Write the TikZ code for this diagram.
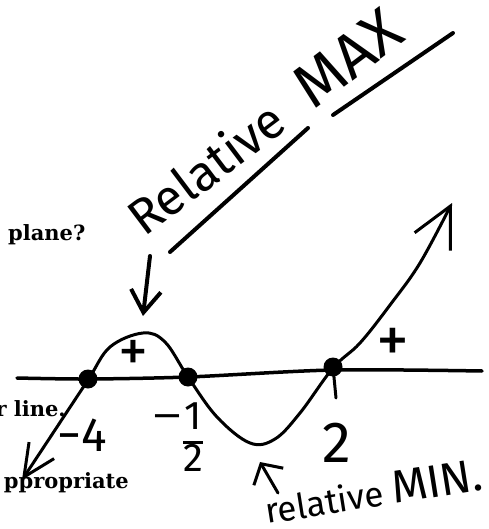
\documentclass[tikz,border=0pt]{standalone}
\usepackage{fontspec}
\newfontfamily\handfont{Fira Sans}
\newfontfamily\printfont{DejaVu Serif}
\usetikzlibrary{arrows.meta}
\tikzset{
  ink/.style   ={draw=black,line width=3pt,line cap=round,line join=round},
  zero/.style  ={circle,fill=black,inner sep=0pt,minimum size=19pt},
  hand/.style  ={font=\handfont\fontsize{48}{48}\selectfont,inner sep=0pt},
  qtext/.style ={font=\printfont\bfseries\fontsize{21}{21}\selectfont,inner sep=0pt},
}

\begin{document}
\begin{tikzpicture}[x=1pt,y=-1pt]
\useasboundingbox (0,0) rectangle (488,529);
\clip (0,0) rectangle (488,529);

% printed question text, cut at the left edge
\node[qtext,anchor=base west] (q1) at (8,240)   {plane?};
\node[qtext,anchor=base east] (q2) at (66,416)  {r line.};
\node[qtext,anchor=base east] (q3) at (129,488) {ppropriate};

% number line
\draw[ink,line width=3.5pt] plot[smooth] coordinates
  {(17,378) (88,379) (188,377) (333,370) (482,371)};

% zeros
\node[zero] (zA) at (88,379)  {};
\node[zero] (zB) at (188,377) {};
\node[zero] (zC) at (333,367) {};
\coordinate (tC) at (336,398);
\draw[ink] (zC.center) -- (tC);

% sign curve
\draw[ink,{Straight Barb[length=32pt,width=30pt]}-{Straight Barb[length=40pt,width=40pt]}]
  plot[smooth,tension=0.6] coordinates
  {(22,480) (55,430) (88,380) (110,347) (143,333) (165,342) (188,377)
   (217,417) (250,443) (275,439) (300,413) (333,368) (360,343) (390,305)
   (420,263) (452,203)};

% labels on the line
\node[hand] (lA) at (82,435) {−4};
\node[hand,font=\handfont\fontsize{40}{40}\selectfont] (lB) at (177,443)
  {\raisebox{20pt}{\scalebox{1.6}[1]{−}}\setlength\arrayrulewidth{3pt}\renewcommand\arraystretch{0.95}%
   \begin{tabular}{@{}c@{}}1\\\hline 2\end{tabular}};
\node[hand,font=\handfont\fontsize{58}{58}\selectfont] (lC) at (337,443) {2};
\node[hand,font=\handfont\fontsize{60}{60}\selectfont] (pA) at (133,356) {+};
\node[hand,font=\handfont\fontsize{66}{66}\selectfont] (pB) at (393,345) {+};

% relative max
\node[hand,anchor=base west,rotate=37] (lMax) at (144,238)
  {\fontsize{50}{50}\selectfont Relative\hspace{30pt}\fontsize{62}{62}\selectfont MAX};
\draw[ink,line width=4pt] (170,252) -- (308,128);
\draw[ink,line width=4pt] (333,115) -- (453,33);
\coordinate (xT) at (150,256);
\coordinate (xH) at (143,316);
\draw[ink,line width=4pt,-{Straight Barb[length=22pt,width=30pt]}] (xT) -- (xH);

% relative min
\node[hand,anchor=base west,rotate=9] (lMin) at (267,524)
  {\fontsize{35}{35}\selectfont relative \fontsize{46}{46}\selectfont MIN.};
\coordinate (nT) at (278,493);
\coordinate (nH) at (260,462);
\draw[ink,-{Straight Barb[length=15pt,width=34pt]}] (nT) -- (nH);
\end{tikzpicture}
\end{document}
